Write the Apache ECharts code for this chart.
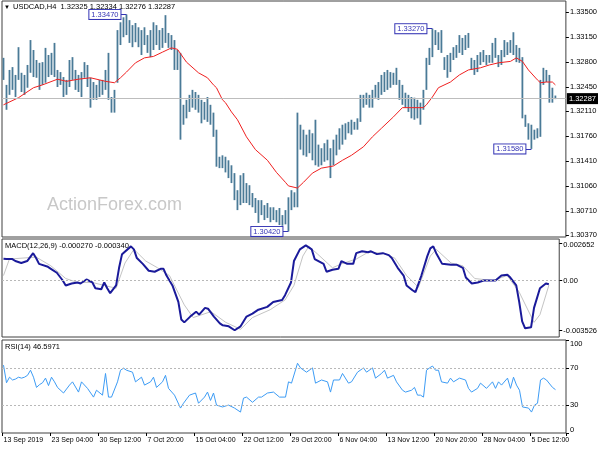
<!DOCTYPE html>
<html><head><meta charset="utf-8">
<script src="https://cdn.jsdelivr.net/npm/echarts@6/dist/echarts.min.js"></script>
<style>html,body{margin:0;padding:0;background:#fff}#c{width:600px;height:450px}</style>
</head><body><div id="c"></div>
<script>
// ---------- DATA ----------
const symbolName = 'USDCAD,H4';
const lastBar = [1.32325, 1.32334, 1.32276, 1.32287]; // open high low close
const tickLabels = ['13 Sep 2019','23 Sep 04:00','30 Sep 12:00','7 Oct 20:00','15 Oct 04:00','22 Oct 12:00','29 Oct 20:00','6 Nov 04:00','13 Nov 12:00','20 Nov 20:00','28 Nov 04:00','5 Dec 12:00'];
const priceTicks = [1.33500,1.33150,1.32800,1.32450,1.32110,1.31760,1.31410,1.31060,1.30710,1.30370];
const macdTicks = [0.002652, 0, -0.003526];
const rsiTicks = [100, 70, 30, 0];
const rsiLevels = [70, 30];
const macdLast = [-0.000270, -0.000340];
const rsiLast = 46.5971;
const peakMarks = [[41, 1.33470], [95, 1.30420], [143, 1.33270], [176, 1.31580]];

const highs = [1.3286,1.3248,1.3269,1.3273,1.3262,1.3301,1.3265,1.3262,1.3276,1.3311,
1.3297,1.3283,1.3279,1.3280,1.3300,1.3290,1.3293,1.3307,1.3269,1.3266,
1.3259,1.3255,1.3283,1.3287,1.3269,1.3262,1.3266,1.3280,1.3276,1.3258,
1.3252,1.3248,1.3255,1.3255,1.3269,1.3293,1.3231,1.3241,1.3325,1.3336,
1.3343,1.3347,1.3339,1.3332,1.3335,1.3329,1.3325,1.3329,1.3318,1.3325,
1.3336,1.3332,1.3325,1.3328,1.3346,1.3321,1.3318,1.3311,1.3297,1.3293,
1.3220,1.3227,1.3234,1.3241,1.3238,1.3234,1.3227,1.3224,1.3231,1.3220,
1.3209,1.3185,1.3147,1.3149,1.3147,1.3142,1.3135,1.3124,1.3100,1.3121,
1.3124,1.3110,1.3107,1.3096,1.3089,1.3086,1.3086,1.3079,1.3082,1.3076,
1.3076,1.3072,1.3075,1.3065,1.3072,1.3090,1.3100,1.3097,1.3209,1.3192,
1.3185,1.3178,1.3185,1.3180,1.3199,1.3164,1.3159,1.3166,1.3171,1.3159,
1.3171,1.3178,1.3187,1.3192,1.3194,1.3196,1.3199,1.3196,1.3201,1.3234,
1.3234,1.3237,1.3234,1.3241,1.3248,1.3252,1.3262,1.3266,1.3269,1.3266,
1.3265,1.3272,1.3255,1.3248,1.3237,1.3234,1.3231,1.3230,1.3227,1.3223,
1.3241,1.3286,1.3300,1.3327,1.3325,1.3322,1.3325,1.3287,1.3290,1.3293,
1.3301,1.3304,1.3318,1.3314,1.3318,1.3321,1.3286,1.3283,1.3290,1.3294,
1.3297,1.3290,1.3290,1.3307,1.3314,1.3290,1.3297,1.3311,1.3308,1.3311,
1.3322,1.3304,1.3300,1.3287,1.3206,1.3194,1.3192,1.3185,1.3187,1.3255,
1.3272,1.3269,1.3262,1.3244,1.3233];

const lows = [1.3255,1.3213,1.3234,1.3241,1.3231,1.3255,1.3238,1.3234,1.3244,1.3265,
1.3259,1.3258,1.3241,1.3248,1.3251,1.3259,1.3262,1.3259,1.3245,1.3248,
1.3231,1.3234,1.3245,1.3255,1.3241,1.3238,1.3231,1.3258,1.3245,1.3216,
1.3227,1.3227,1.3231,1.3234,1.3241,1.3227,1.3209,1.3209,1.3251,1.3304,
1.3315,1.3318,1.3307,1.3301,1.3308,1.3301,1.3290,1.3304,1.3293,1.3287,
1.3297,1.3304,1.3297,1.3300,1.3307,1.3300,1.3297,1.3269,1.3269,1.3171,
1.3192,1.3201,1.3210,1.3216,1.3213,1.3209,1.3194,1.3199,1.3196,1.3192,
1.3175,1.3133,1.3131,1.3131,1.3125,1.3117,1.3110,1.3086,1.3072,1.3079,
1.3082,1.3082,1.3079,1.3076,1.3068,1.3054,1.3065,1.3058,1.3061,1.3055,
1.3058,1.3055,1.3051,1.3050,1.3052,1.3042,1.3072,1.3076,1.3076,1.3157,
1.3149,1.3147,1.3152,1.3142,1.3135,1.3133,1.3135,1.3140,1.3142,1.3117,
1.3135,1.3149,1.3157,1.3164,1.3171,1.3180,1.3178,1.3185,1.3185,1.3196,
1.3216,1.3220,1.3216,1.3216,1.3230,1.3227,1.3234,1.3238,1.3241,1.3244,
1.3248,1.3248,1.3227,1.3220,1.3216,1.3210,1.3201,1.3199,1.3201,1.3192,
1.3213,1.3241,1.3276,1.3287,1.3304,1.3297,1.3293,1.3269,1.3258,1.3266,
1.3283,1.3286,1.3293,1.3290,1.3297,1.3300,1.3269,1.3262,1.3266,1.3276,
1.3280,1.3276,1.3279,1.3279,1.3286,1.3273,1.3276,1.3287,1.3290,1.3293,
1.3290,1.3280,1.3279,1.3201,1.3189,1.3171,1.3158,1.3171,1.3173,1.3175,
1.3248,1.3252,1.3223,1.3223,1.3228];

// moving average, read at [bar slot, value]
const maPoints = [[0,1.3220],[5,1.3230],[10,1.3244],[13,1.3248],[18,1.3256],[21,1.3253],[25,1.3256],[29,1.3258],[32,1.3255],[34,1.3253],
[37,1.3251],[39,1.3258],[41,1.3266],[44,1.3279],[47,1.3286],[50,1.3288],[53,1.3294],[56,1.3300],[58,1.3298],[61,1.3280],
[65,1.3265],[68,1.3258],[70,1.3248],[71,1.3244],[73,1.3227],[74,1.3223],[76,1.3210],[78,1.3199],[81,1.3175],[84,1.3157],
[88,1.3142],[91,1.3125],[94,1.3111],[95,1.3106],[98,1.3103],[100,1.3111],[103,1.3124],[106,1.3131],[110,1.3134],[113,1.3142],
[116,1.3149],[120,1.3161],[123,1.3175],[126,1.3187],[130,1.3203],[133,1.3216],[136,1.3216],[140,1.3216],[141,1.3220],[143,1.3231],
[145,1.3244],[149,1.3252],[152,1.3262],[155,1.3269],[159,1.3272],[162,1.3276],[165,1.3279],[169,1.3281],[171,1.3286],[173,1.3281],
[175,1.3269],[178,1.3255],[179,1.3251],[181,1.3252],[183,1.3252],[184,1.3248]];

const macdMain = [[0,0.00154],[1,0.00152],[3,0.00152],[4,0.00138],[6,0.00124],[8,0.00138],[10,0.00194],[11,0.00159],[12,0.00118],[15,0.00097],
[16,0.00083],[18,0.00055],[20,0],[21,-0.00035],[23,-0.00021],[25,-0.00014],[26,-0.00021],[28,0.00007],[30,-0.00014],[31,-0.00055],
[33,-0.00062],[34,-0.00014],[35,-0.00055],[36,-0.0009],[38,-0.00035],[39,0.0009],[40,0.00187],[43,0.00242],[44,0.00221],[45,0.00159],
[47,0.00118],[49,0.00069],[51,0.00062],[53,0.00083],[54,0.00083],[55,0.00035],[57,-0.00035],[59,-0.00152],[60,-0.00277],[61,-0.00297],
[63,-0.00256],[65,-0.00221],[66,-0.00242],[68,-0.00194],[69,-0.002],[71,-0.00256],[73,-0.00304],[74,-0.00318],[76,-0.00325],[78,-0.00353],
[80,-0.00325],[82,-0.00256],[84,-0.00235],[86,-0.00207],[89,-0.00187],[91,-0.00152],[94,-0.00138],[95,-0.00104],[97,-0.00014],[98,0.00138],
[100,0.00221],[102,0.00249],[104,0.00221],[105,0.00152],[108,0.00118],[109,0.00062],[111,0.00076],[113,0.00083],[114,0.00138],[116,0.00118],
[118,0.00118],[119,0.00194],[121,0.00207],[123,0.002],[124,0.00207],[126,0.00187],[128,0.00194],[130,0.0018],[131,0.00159],[133,0.0009],
[135,0.00035],[136,-0.00035],[138,-0.00069],[139,-0.00083],[141,0.00035],[143,0.00173],[144,0.00228],[145,0.00242],[146,0.00194],[148,0.00118],
[151,0.00111],[153,0.00111],[155,0.0009],[156,0.00021],[158,-0.00021],[160,-0.00014],[162,0],[164,0],[166,0],[168,0.00035],
[170,0.00041],[171,0.00021],[173,-0.00035],[174,-0.00152],[175,-0.0029],[176,-0.00339],[178,-0.00332],[179,-0.00194],[181,-0.00055],[183,-0.00021],
[184,-0.00027]];

const macdSignal = [[0,0.00035],[2,0.00152],[11,0.00166],[16,0.00104],[21,0.00014],[25,-0.00014],[30,-0.00014],[34,-0.00035],[38,-0.00055],[41,0.00124],
[44,0.00221],[48,0.00138],[52,0.0009],[56,0.00035],[61,-0.00173],[64,-0.00263],[70,-0.00221],[75,-0.00297],[80,-0.00346],[84,-0.00263],
[90,-0.00207],[95,-0.00138],[98,-0.00035],[101,0.00173],[103,0.00242],[106,0.00187],[111,0.0009],[114,0.00118],[119,0.00152],[123,0.002],
[128,0.00194],[132,0.00159],[136,0.00035],[140,-0.00048],[144,0.00173],[146,0.00221],[151,0.00124],[155,0.00104],[159,0.00014],[165,0],
[170,0.00035],[174,-0.00083],[179,-0.00297],[181,-0.00242],[184,-0.00034]];

const rsiPoints = [[0,73],[1,54],[2,60],[3,57],[4,58],[5,60],[6,59],[7,60],[8,62],[9,67.5],
[10,60],[11,49],[12,52],[13,54],[14,59],[15,51],[16,60],[17,55],[18,49],[20,43],
[22,51.5],[23,55],[25,44],[26,55],[28,48],[30,38.6],[31,46],[33,40.7],[34,64],[35,38.6],
[36,38.6],[38,55],[39,67.5],[40,69.7],[41,67.5],[43,65.4],[44,55],[46,60],[47,51.5],[49,55],
[50,60],[51,49],[53,55],[54,62],[55,48],[57,40.7],[59,26.8],[60,32],[62,40.7],[64,43],
[65,32],[67,38.6],[68,44],[69,35],[70,43],[71,30],[73,28],[75,30],[77,26.8],[79,22.5],
[80,37.5],[81,38.6],[83,33],[85,38.6],[86,38.6],[88,43],[90,44],[92,38.6],[94,38.6],[95,55],
[96,53.6],[98,75],[99,70],[101,65.4],[103,70],[104,53.6],[106,57],[108,55],[109,44],[110,57],
[112,57],[113,64],[115,53.6],[116,55],[118,65.4],[120,70],[121,65.4],[123,70],[124,59],[126,64],
[127,67.5],[128,59],[130,62],[131,55],[133,46],[134,44],[136,46],[137,49],[138,40.7],[139,40.7],
[140,38.6],[141,67.5],[142,70],[143,72],[144,67.5],[145,67.5],[146,55],[148,53.6],[149,59],[150,55],
[152,59],[154,57],[155,48],[156,44],[158,48],[159,53.6],[161,48],[163,55],[164,48],[165,55],
[166,51.5],[168,59],[169,48],[170,60],[171,51.5],[172,46],[173,28],[175,26.8],[176,22.5],[177,30],
[178,32],[179,57],[180,59],[181,57],[183,49],[184,46.6]];

// ---------- CHART ----------
const N_SLOTS = 188;
const cats = Array.from({length: N_SLOTS}, (_, i) => String(i));
const FONT = '"Liberation Sans", Arial, sans-serif';
const TXT = {fontFamily: FONT, fontSize: 7.5, color: '#000'};
const ANN = '#3535b5';

const chart = echarts.init(document.getElementById('c'), null, {renderer: 'canvas'});

function xAx(g) {
  return {
    type: 'category', gridIndex: g, data: cats, boundaryGap: true,
    axisLine: {show: false},
    axisTick: {show: g === 2, interval: (i) => i % 16 === 0, length: 3, lineStyle: {color: '#000'}},
    axisLabel: {show: g === 2, interval: (i) => i % 16 === 0, align: 'left', margin: 4,
      formatter: (v, i) => tickLabels[Math.round(Number(v) / 16)] || '', fontFamily: FONT, fontSize: 7, color: '#000'},
    splitLine: {show: false}
  };
}
function yAx(g, min, max, ticks, fmt, rich) {
  return {
    type: 'value', gridIndex: g, position: 'right', min: min, max: max,
    splitLine: {show: false},
    axisLine: {show: false},
    axisTick: {show: true, customValues: ticks, length: 3, lineStyle: {color: '#000'}},
    axisLabel: Object.assign({customValues: ticks, formatter: fmt, margin: 4, rich: rich || {}}, TXT)
  };
}

const annotations = peakMarks.map(([s, p]) => [
  {coord: [s - 2, p], lineStyle: {color: ANN, type: 'solid', width: 1},
   label: {show: true, position: 'start', distance: 0, formatter: p.toFixed(5), color: ANN, backgroundColor: '#fff',
           borderColor: ANN, borderWidth: 1, padding: [1, 2, 0, 2], fontFamily: FONT, fontSize: 7.5}},
  {coord: [s, p]}
]);

const shiftRich = {
  dn4: Object.assign({padding: [4, 0, 0, 0]}, TXT),
  dn2: Object.assign({padding: [2, 0, 0, 0]}, TXT),
  dn7: Object.assign({padding: [7, 0, 0, 0]}, TXT),
  up7: Object.assign({padding: [0, 0, 7, 0]}, TXT)
};

chart.setOption({
  animation: false,
  backgroundColor: '#fff',
  grid: [
    {left: 2, right: 34, top: 1, height: 236, show: true, borderColor: '#404040', borderWidth: 1},
    {left: 2, right: 34, top: 239, height: 98, show: true, borderColor: '#404040', borderWidth: 1},
    {left: 2, right: 34, top: 340, height: 93, show: true, borderColor: '#404040', borderWidth: 1}
  ],
  xAxis: [xAx(0), xAx(1), xAx(2)],
  yAxis: [
    yAx(0, 1.30342, 1.33659, priceTicks, v => v.toFixed(5)),
    yAx(1, -0.004007, 0.002943, macdTicks,
        v => (v === 0 ? '0.00' : (v > 0 ? '{dn4|' + v.toFixed(6) + '}' : '{dn2|' + v.toFixed(6) + '}')), shiftRich),
    yAx(2, 0, 100, rsiTicks,
        v => (v === 100 ? '{dn7|100}' : (v === 0 ? '{up7|0}' : String(v))), shiftRich)
  ],
  graphic: [
    {type: 'text', left: 47, top: 196, z: 0, silent: true,
     style: {text: 'ActionForex.com', fill: '#c8c8c8', font: '18px ' + FONT}},
    {type: 'text', left: 4, top: 4, silent: true, style: {text: '\u25BC', fill: '#000', font: '6px ' + FONT}},
    {type: 'text', left: 13, top: 3, silent: true,
     style: {text: symbolName + '  ' + lastBar.map(v => v.toFixed(5)).join(' '), fill: '#000', font: '7.5px ' + FONT}},
    {type: 'text', left: 5, top: 242, silent: true,
     style: {text: 'MACD(12,26,9) ' + macdLast.map(v => v.toFixed(6)).join(' '), fill: '#000', font: '7.5px ' + FONT}},
    {type: 'text', left: 5, top: 343, silent: true,
     style: {text: 'RSI(14) ' + rsiLast.toFixed(4), fill: '#000', font: '7.5px ' + FONT}}
  ],
  series: [
    {
      type: 'custom', xAxisIndex: 0, yAxisIndex: 0, silent: true, clip: true,
      data: highs.map((h, i) => [i, h, lows[i]]),
      encode: {x: 0, y: [1, 2]},
      renderItem: (params, api) => {
        const i = api.value(0);
        const a = api.coord([i, api.value(1)]);
        const b = api.coord([i, api.value(2)]);
        return {type: 'rect', shape: {x: a[0] - 0.9, y: a[1], width: 1.8, height: Math.max(1, b[1] - a[1])},
                style: {fill: '#4a7a97'}};
      }
    },
    {
      type: 'line', xAxisIndex: 0, yAxisIndex: 0, data: maPoints, showSymbol: false, silent: true,
      lineStyle: {color: '#f02020', width: 1}, z: 3,
      markLine: {
        silent: true, symbol: ['none', 'none'], animation: false, precision: 5,
        data: [
          {yAxis: lastBar[3], lineStyle: {color: '#bdbdbd', type: 'solid', width: 1},
           label: {show: true, position: 'end', distance: 1, formatter: lastBar[3].toFixed(5), color: '#fff',
                   backgroundColor: '#000', padding: [2, 2, 1, 2], fontFamily: FONT, fontSize: 7.5}}
        ].concat(annotations)
      }
    },
    {
      type: 'line', xAxisIndex: 1, yAxisIndex: 1, data: macdSignal, showSymbol: false, silent: true,
      lineStyle: {color: '#c4c4c4', width: 1}, z: 2,
      markLine: {silent: true, symbol: ['none', 'none'], label: {show: false}, precision: 6,
        lineStyle: {color: '#b8b8b8', type: [2, 2], width: 1}, data: [{yAxis: 0}]}
    },
    {
      type: 'line', xAxisIndex: 1, yAxisIndex: 1, data: macdMain, showSymbol: false, silent: true,
      lineStyle: {color: '#1a1a9a', width: 2}, z: 3
    },
    {
      type: 'line', xAxisIndex: 2, yAxisIndex: 2, data: rsiPoints, showSymbol: false, silent: true,
      lineStyle: {color: '#3d9cf5', width: 1}, z: 3,
      markLine: {silent: true, symbol: ['none', 'none'], label: {show: false},
        lineStyle: {color: '#b8b8b8', type: [2, 2], width: 1}, data: rsiLevels.map(v => ({yAxis: v}))}
    }
  ]
});
</script>
</body></html>
